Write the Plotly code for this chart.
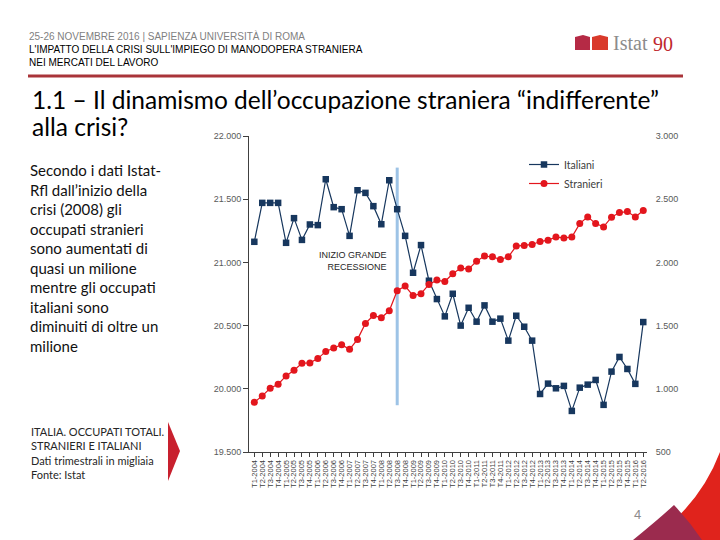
import plotly.graph_objects as go

# ---------------- Data (migliaia) ---------------- #

years = list(range(2004, 2017))
periodi = [f"T{q}-{y}" for y in years for q in range(1, 5)][:50]

italiani = [21163, 21471, 21471, 21471, 21155, 21350, 21178, 21300, 21295, 21658,
            21437, 21421, 21210, 21571, 21550, 21445, 21302, 21650, 21421, 21210,
            20918, 21137, 20855, 20710, 20573, 20752, 20500, 20641, 20531, 20660,
            20531, 20555, 20381, 20578, 20491, 20381, 19959, 20041, 20004, 20023,
            19825, 20009, 20033, 20070, 19873, 20136, 20252, 20157, 20039, 20528]

stranieri = [893, 944, 1004, 1036, 1102, 1147, 1202, 1205, 1239, 1296,
             1323, 1349, 1312, 1391, 1517, 1580, 1562, 1617, 1776, 1813,
             1738, 1752, 1826, 1860, 1849, 1910, 1955, 1947, 2010, 2050,
             2044, 2023, 2044, 2129, 2134, 2142, 2165, 2176, 2200, 2194,
             2200, 2307, 2360, 2307, 2281, 2358, 2394, 2402, 2360, 2410]

left_ticks = [19500, 20000, 20500, 21000, 21500, 22000]
right_ticks = [500, 1000, 1500, 2000, 2500, 3000]
inizio_crisi = "T3-2008"

W, H = 720, 540


def px(x):
    return x / W


def py(y):
    return 1 - y / H


BLUE = "#17375E"
RED = "#E3161D"
AXIS = "#404040"
FONT = "Lato"

fig = go.Figure()
fig.add_trace(go.Scatter(x=periodi, y=italiani, name="Italiani", mode="lines+markers",
                         line=dict(color=BLUE, width=1.2),
                         marker=dict(symbol="square", size=6.5, color=BLUE)))
fig.add_trace(go.Scatter(x=periodi, y=stranieri, name="Stranieri", mode="lines+markers",
                         yaxis="y2", line=dict(color=RED, width=1.2),
                         marker=dict(symbol="circle", size=7, color=RED)))

tickfont = dict(family="Liberation Sans", size=9, color="#595959")

fig.update_layout(
    width=W, height=H,
    margin=dict(l=0, r=0, t=0, b=0, autoexpand=False),
    paper_bgcolor="white", plot_bgcolor="white",
    separators=",.",
    showlegend=True,
    legend=dict(x=px(524), y=py(150), xanchor="left", yanchor="top",
                bgcolor="rgba(0,0,0,0)", font=dict(family=FONT, size=10.5, color=AXIS),
                itemwidth=30, tracegroupgap=0),
    xaxis=dict(domain=[px(249), px(647)], range=[-0.67, 49.47], type="category",
               tickmode="array", tickvals=periodi, ticktext=periodi, automargin=False,
               showgrid=False, showline=True, linecolor=AXIS, linewidth=1,
               ticks="outside", ticklen=4, tickcolor=AXIS, tickangle=-90,
               tickfont=dict(family="Liberation Sans", size=7.5, color=AXIS),
               anchor="y", fixedrange=True),
    yaxis=dict(domain=[py(452), py(136)], range=[19500, 22000], tickvals=left_ticks,
               tickformat=",d", showgrid=False, zeroline=False, showline=True,
               linecolor=AXIS, linewidth=1, ticks="outside", ticklen=5, tickcolor=AXIS,
               tickfont=tickfont, anchor="x", automargin=False),
    yaxis2=dict(overlaying="y", side="right", range=[500, 3000], tickvals=right_ticks,
                tickformat=",d", showgrid=False, zeroline=False, showline=False,
                ticks="outside", ticklen=6, tickcolor="white", tickfont=tickfont,
                anchor="x", automargin=False),
)

# linea inizio recessione
fig.add_shape(type="line", xref="x", yref="y", x0=inizio_crisi, x1=inizio_crisi,
              y0=19870, y1=21750, line=dict(color="#9DC3E6", width=3), layer="below")

shapes = [
    # linea rossa intestazione
    dict(type="line", x0=px(28), x1=px(683), y0=py(76), y1=py(76),
         line=dict(color="#A93439", width=3)),
    # logo Istat
    dict(type="path", path=f"M {px(575)},{py(50)} L {px(575)},{py(37)} L {px(583)},{py(35)} "
                           f"L {px(590)},{py(37)} L {px(590)},{py(50)} Z",
         fillcolor="#B52A45", line=dict(width=0)),
    dict(type="path", path=f"M {px(592)},{py(50)} L {px(592)},{py(37)} L {px(600)},{py(35)} "
                           f"L {px(608)},{py(37)} L {px(608)},{py(50)} Z",
         fillcolor="#D93A2B", line=dict(width=0)),
    # freccia riquadro fonte
    dict(type="path", path=f"M {px(168)},{py(422)} L {px(180)},{py(451)} L {px(168)},{py(481)} Z",
         fillcolor="#C8202E", line=dict(width=0)),
    # decorazione angolo
    dict(type="path", path=f"M {px(650)},{py(540)} Q {px(700)},{py(505)} {px(720)},{py(452)} "
                           f"L {px(720)},{py(540)} Z",
         fillcolor="#E0231C", line=dict(width=0)),
    dict(type="path", path=f"M {px(633)},{py(540)} Q {px(660)},{py(518)} {px(674)},{py(505)} "
                           f"Q {px(690)},{py(522)} {px(702)},{py(540)} Z",
         fillcolor="#9B2B4E", line=dict(width=0)),
]
for s in shapes:
    fig.add_shape(xref="paper", yref="paper", **s)


def note(x, y, text, size, color="black", family=FONT, xanchor="left", yanchor="middle",
         align="left"):
    fig.add_annotation(x=px(x), y=py(y), xref="paper", yref="paper", text=text,
                       showarrow=False, xanchor=xanchor, yanchor=yanchor, align=align,
                       font=dict(family=family, size=size, color=color))


note(27, 36, "25-26 NOVEMBRE 2016 | SAPIENZA UNIVERSITÀ DI ROMA", 10, "#7F7F7F", "Liberation Sans")
note(27, 50, "L'IMPATTO DELLA CRISI SULL'IMPIEGO DI MANODOPERA STRANIERA", 10, "black", "Liberation Sans")
note(27, 62, "NEI MERCATI DEL LAVORO", 10, "black", "Liberation Sans")

note(611, 43, "Istat", 20, "#8C8C8C", "Liberation Serif")
note(651, 44, "90", 20, "#C0282E", "Liberation Serif")

note(30, 100, "1.1 – Il dinamismo dell’occupazione straniera “indifferente”", 24.5)
note(30, 127, "alla crisi?", 24.5)

paragrafo = ("Secondo i dati Istat-<br>Rfl dall’inizio della<br>crisi (2008) gli<br>"
             "occupati stranieri<br>sono aumentati di<br>quasi un milione<br>"
             "mentre gli occupati<br>italiani sono<br>diminuiti di oltre un<br>milione")
note(28, 159, paragrafo, 15, "#111111", yanchor="top")

fonte = ("ITALIA. OCCUPATI TOTALI.<br>STRANIERI E ITALIANI<br>"
         "Dati trimestrali in migliaia<br>Fonte: Istat")
note(29, 423, fonte, 11, "#262626", yanchor="top")

note(389, 261, "INIZIO GRANDE<br>RECESSIONE", 9, "#262626", "Liberation Sans",
     xanchor="right", align="right")

note(637, 514, "4", 13, "#8C8C8C", "Liberation Sans", xanchor="center")

fig.write_html("out.html", config={"displayModeBar": False},
               post_script="document.body.style.margin='0px';")
